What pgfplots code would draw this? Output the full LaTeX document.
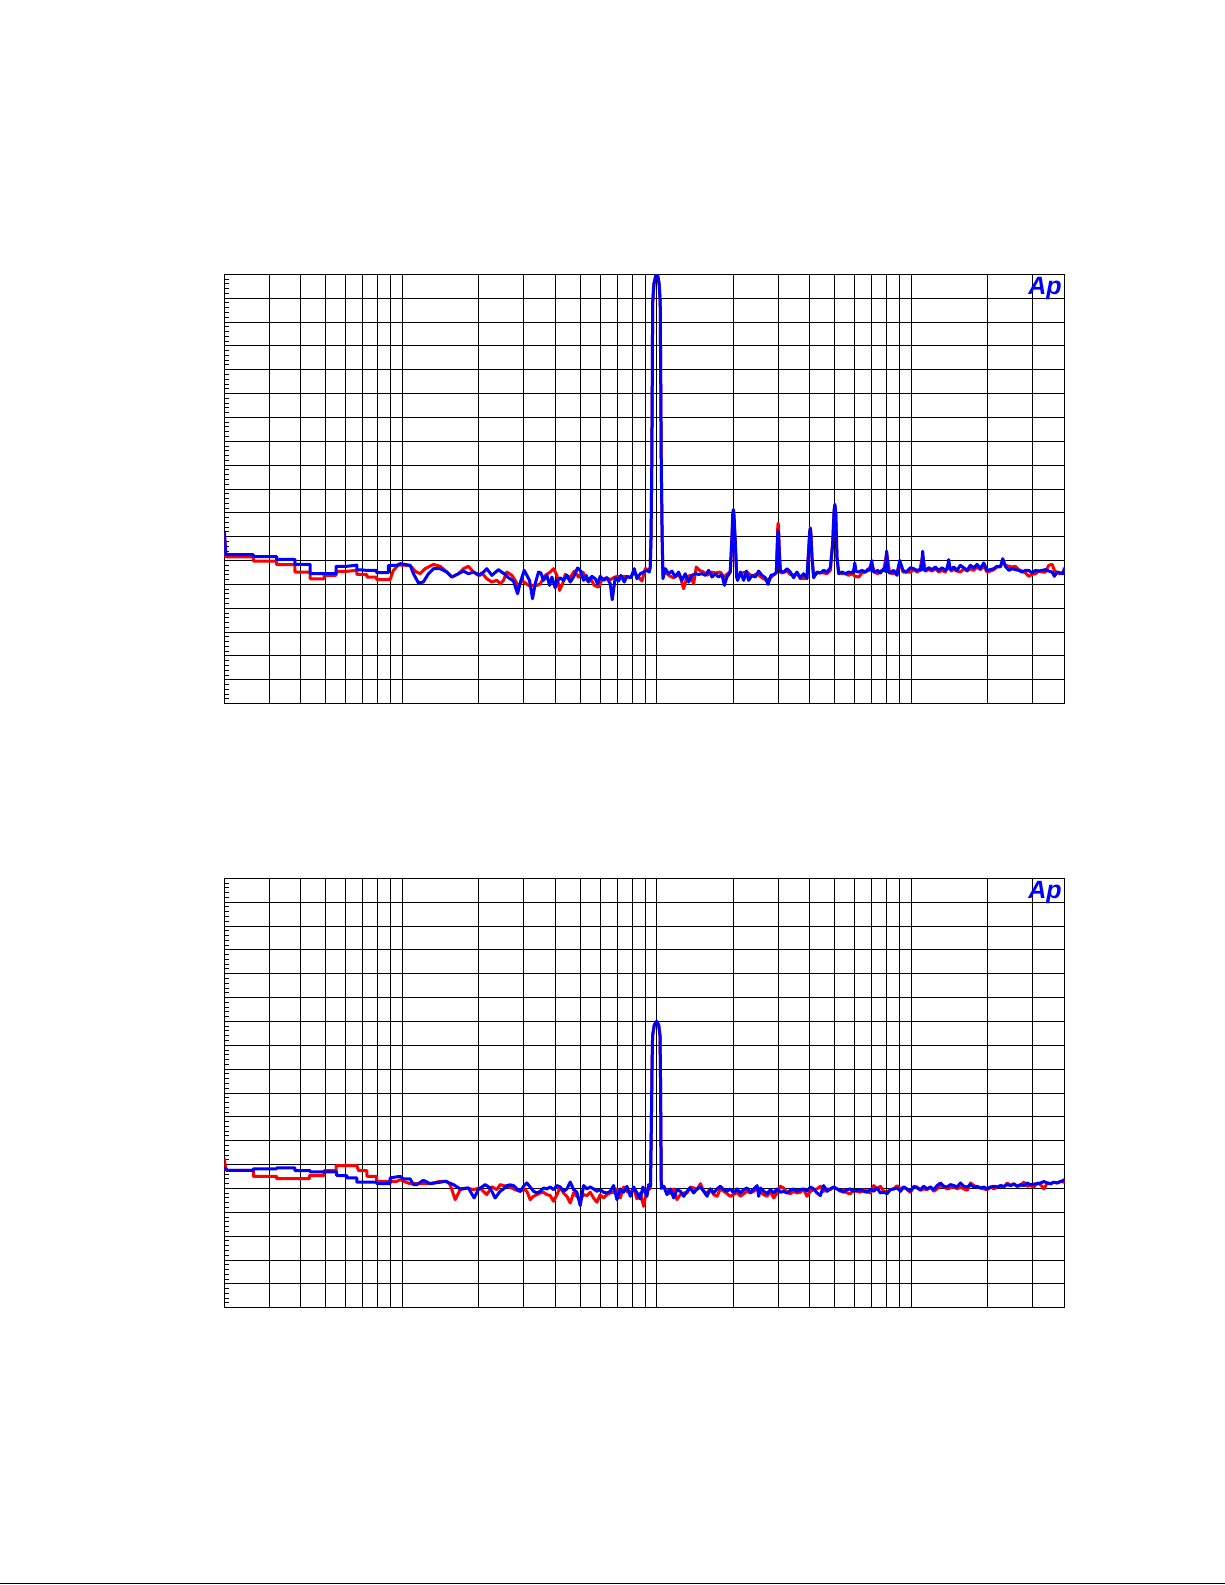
\documentclass[border=0pt]{standalone}
\usepackage{fontspec}
\usepackage{pgfplots}
\pgfplotsset{compat=1.18}
\newfontfamily\apfont{Liberation Sans}
\definecolor{apred}{RGB}{255,0,0}
\definecolor{apblue}{RGB}{0,0,255}
\begin{document}
\begin{tikzpicture}
\path[use as bounding box] (0,0) rectangle (612.5pt,-792.5pt);
% ---------------- top graph ----------------
\begin{axis}[
  at={(112.15pt,-137.15pt)}, anchor=north west,
  scale only axis, width=420.1pt, height=214.7pt,
  xmode=log, xmin=20, xmax=40000, ymin=-180, ymax=0,
  xtick={30,40,50,60,70,80,90,100,200,300,400,500,600,700,800,900,1000,2000,3000,4000,5000,6000,7000,8000,9000,10000,20000,30000},
  minor xtick={},
  ytick={-180,-170,...,0},
  minor y tick num=4,
  xticklabels={}, yticklabels={},
  grid=major,
  major grid style={black, line width=0.5pt},
  axis line style={black, line width=0.6pt},
  major tick length=0pt,
  minor tick length=2.2pt,
  tick align=inside,
  ytick pos=left, xtick pos=bottom,
  minor tick style={black, line width=0.5pt},
  ]
\addplot[apred, line width=1.5pt, line join=round, mark=none] coordinates {
(20,-108.7) (20.3,-118.5) (26.0,-118.5) (26.0,-120.2) (32.1,-120.2) (32.1,-121.7) (37.9,-121.7) (37.9,-124.8) (43.5,-124.8) (43.5,-127.7) (49.3,-127.7) (49.3,-126.2) (55,-126.2) (55,-124.5) (60.6,-124.5) (66.3,-124.1) (66.3,-125.8) (72.6,-125.8) (72.6,-126.9) (79.4,-126.9) (79.4,-128.0) (89.6,-128.0) (92.3,-124.1) (96.6,-121.9) (107.4,-122.0) (112.4,-124.5) (117.6,-125.5) (123,-123.4) (132.7,-121.6) (141,-122.4) (149.7,-124.8) (156.6,-126.9) (166.4,-125.5) (174,-123.4) (182,-122.4) (190.6,-124.8) (199,-126.2) (205.6,-125.2) (214.9,-127.6) (225,-129.0) (235.4,-128.3)
(242.6,-129.7) (250.0,-128.3) (257.7,-124.8) (269.6,-126.2) (277.9,-128.3) (286.4,-131.1) (295.2,-128.3) (304.3,-129.4) (313.6,-130.4) (323.2,-130.4) (338.2,-130.4) (348.5,-129.7) (364.6,-126.2) (381.5,-124.8) (393.2,-123.4) (405.2,-126.2) (415.1,-132.5) (427.8,-129.4) (436.9,-125.8) (457.2,-127.2) (474.1,-124.4) (493.0,-126.9) (512.7,-124.8) (531.6,-128.3) (547.9,-127.2) (568.1,-130.4) (590.9,-131.1) (608.9,-128.0) (633.2,-127.2) (656.6,-128.0) (676.8,-127.2) (697.5,-126.6) (718.8,-126.9) (752.1,-126.6) (786.8,-127.2) (811.0,-125.2) (835.8,-126.2) (874.7,-128.6) (901.4,-123.4) (937.3,-124.1)
(942.9,-122.7) (950,-110) (956,-80) (961,-40) (963.5,-12) (975,-4) (990,-0.8) (1000,0) (1010,-0.8) (1022,-4) (1032,-12) (1036,-40) (1042,-80) (1050,-110) (1057.7,-126)
(1063.9,-124.1) (1096,-125.5) (1130,-126.6) (1165,-127.2) (1200.5,-125.8) (1237,-126.9) (1275,-131.8) (1314,-126.9) (1355,-126.2) (1396,-129.7) (1430,-122.7) (1474,-124.1) (1528,-124.8) (1575,-126.2) (1633,-124.8) (1698,-125.2) (1777,-124.8) (1832,-126.9) (1887,-125.8) (1945,-124.5) (1975,-111) (1990,-101.5) (2000,-100.3) (2010,-101.5) (2035,-113) (2066,-127.2) (2162,-125.2) (2262,-124.8) (2367,-126.6) (2476,-125.5) (2591,-127.2) (2711,-128.3) (2837,-126.6) (2950,-125) (2975,-113) (2990,-105.5) (3000,-104.3) (3010,-106) (3030,-115) (3060,-125) (3106,-125.2) (3248,-124.4)
(3347,-125.8) (3450,-126.2) (3556,-125.2) (3665,-127.6) (3777,-127.6) (3893,-127.2) (3952,-116) (3990,-108) (4012,-106.3) (4035,-109) (4073,-119) (4135,-126.6) (4262,-125.2) (4393,-125.2) (4527,-125.2) (4666,-125.5) (4809,-124.1) (4910,-113) (4975,-99.5) (5010,-97) (5050,-100.5) (5107,-119) (5184,-124.8) (5343,-125.5) (5507,-125.5) (5676,-126.2) (5849,-125.5) (6029,-126.6) (6214,-126.9) (6403,-125.2) (6600,-124.8) (6802,-124.1) (6988,-121) (7160,-124.8) (7379,-125.5) (7559,-124.4) (7791,-124.1) (8005,-117) (8226,-125.2) (8530,-125.5) (8791,-124.8) (9006,-121) (9281,-124.8) (9566,-124.8) (9917,-124.8) (10221,-123.8) (10534,-124.8) (10792,-124.1) (11089,-118) (11360,-124.4) (11708,-123.8) (12066,-124.4) (12436,-123.4) (12817,-124.8) (13210,-124.1) (13615,-124.8) (14032,-121) (14333,-124.4) (14681,-123.8) (15131,-124.4) (15594,-124.8) (16073,-123.4) (16565,-124.4) (17073,-123.4) (17595,-124.1) (18134,-122.7) (18689,-123.8) (19262,-122.4) (19853,-124.8) (20461,-124.4) (21088,-123.8) (21734,-122.7) (22400,-122.4) (22876,-120.5) (23433,-122.0) (24152,-122.4) (24892,-122.7) (25655,-122.4) (26441,-123.8) (27251,-124.4) (28086,-125.2) (28947,-126.6) (29834,-125.8) (30747,-125.5) (31690,-124.4) (32661,-124.8) (33661,-124.8) (34693,-122.0) (35756,-121.6) (36508,-124.1) (37400,-125.2) (38546,-125.5) (39488,-124.8) (40000,-124.1)
};
\addplot[apblue, line width=1.5pt, line join=round, mark=none] coordinates {
(20,-108.0) (20.3,-117.5) (26.0,-117.5) (26.0,-118.3) (32.1,-118.3) (32.1,-119.5) (37.9,-119.5) (37.9,-121.6) (43.5,-121.6) (43.5,-125.5) (55,-125.5) (55,-122.4) (60.6,-122.4) (66.3,-121.9) (66.3,-123.8) (72.6,-124.1) (79.4,-124.1) (79.4,-125.1) (88.3,-125.1) (88.3,-122.0) (95.3,-122.0) (98.2,-121.3) (107.4,-122.0) (110.7,-125.5) (115.8,-129.4) (121,-129.0) (126.8,-125.5) (132.7,-123.4) (141,-123.4) (149.7,-124.8) (156.6,-126.9) (166.4,-125.5) (174,-124.4) (182,-125.5) (190.6,-124.8) (202,-126.2) (214.9,-123.4) (225,-126.2) (238.9,-123.8)
(242.6,-124.4) (253.8,-125.8) (261.6,-127.2) (273.7,-128.6) (283.9,-133.9) (290.6,-129.4) (301.5,-124.1) (308.9,-126.2) (316.4,-128.3) (325.1,-136.0) (333,-129.7) (343.2,-124.8) (350.6,-125.2) (359.1,-128.3) (370.1,-126.2) (379.2,-130.4) (387.3,-126.9) (399.1,-131.4) (407.7,-128.3) (417.6,-127.2) (430.4,-128.3) (443.6,-126.2) (457.2,-129.0) (471.2,-126.9) (488.5,-123.1) (500.5,-124.1) (515.8,-128.3) (528.4,-126.2) (539.7,-129.0) (556.2,-126.6) (573.2,-127.6) (585.5,-129.7) (599.8,-126.6) (618.2,-128.3) (637.1,-127.2) (656.6,-129.7) (668.7,-136.4) (686.9,-127.2) (708,-128.6) (723.1,-126.2) (745.3,-129.0) (763.5,-126.6) (791.6,-127.2) (815.9,-123.4) (835.8,-127.6) (861.5,-125.5) (887.8,-124.8) (915,-124.1) (935,-124.8)
(942.9,-122.7) (950,-110) (956,-80) (961,-40) (963.5,-12) (975,-4) (990,-0.8) (1000,0) (1010,-0.8) (1022,-4) (1032,-12) (1036,-40) (1042,-80) (1050,-110) (1057.7,-127.6)
(1080,-123.4) (1113,-125.5) (1147,-124.4) (1182,-126.9) (1218,-124.8) (1256,-128.3) (1294,-125.5) (1334,-129.0) (1375,-126.2) (1417,-125.5) (1461,-125.8) (1506,-125.5) (1552,-126.2) (1599,-124.1) (1648,-126.9) (1698,-125.5) (1751,-126.9) (1804,-125.8) (1843,-130.4) (1887,-126.9) (1945,-124.8) (1975,-110) (1990,-100) (2000,-98.6) (2010,-100) (2035,-112) (2060,-126.9) (2079,-128.3) (2130,-124.8) (2195,-128.3) (2248,-124.4) (2296,-128.3) (2367,-126.2) (2439,-126.9) (2514,-124.4) (2591,-126.2) (2671,-127.2) (2736,-130.0) (2811,-126.2) (2897,-125.8) (2950,-125) (2975,-115) (2990,-108.5) (3000,-107.5) (3010,-109) (3030,-117) (3060,-124.4) (3152,-124.8) (3248,-123.4) (3348,-124.8)
(3450,-127.2) (3556,-124.8) (3665,-127.2) (3777,-125.5) (3893,-127.6) (3952,-116) (3990,-108) (4012,-106.6) (4035,-109) (4073,-118.5) (4135,-127.2) (4262,-124.8) (4393,-125.2) (4527,-124.1) (4666,-124.8) (4809,-123.0) (4910,-113) (4975,-99) (5010,-96.4) (5050,-100) (5107,-118.5) (5184,-125.5) (5343,-124.8) (5507,-125.5) (5676,-124.8) (5849,-125.2) (5940,-124) (6000,-121.0) (6060,-124.5) (6214,-124.8) (6403,-124.1) (6600,-124.8) (6802,-123.4) (6900,-124) (6988,-119.9) (7080,-124.5) (7160,-124.8) (7379,-124.1) (7559,-125.2) (7791,-123.4) (7900,-124.5) (8005,-116.0) (8110,-124.5) (8226,-125.2) (8530,-124.1) (8791,-126.2) (9006,-119.9) (9281,-124.1) (9566,-124.8) (9917,-123.0) (10221,-123.4) (10534,-124.1) (10792,-123.8) (10950,-124) (11089,-116.1) (11230,-124) (11360,-124.1) (11708,-123.0) (12066,-123.8) (12436,-122.7) (12817,-124.1) (13210,-123.0) (13615,-124.1) (13850,-123.5) (14032,-119.6) (14200,-123.5) (14333,-123.8) (14681,-122.7) (15131,-124.1) (15594,-122.0) (16073,-123.0) (16565,-124.1) (17073,-122.0) (17595,-123.0) (18134,-121.6) (18689,-123.4) (19262,-121.0) (19853,-124.1) (20461,-123.8) (21088,-123.4) (21734,-122.4) (22400,-122.7) (22876,-119.2) (23433,-122.4) (24152,-124.1) (24892,-123.4) (25655,-123.8) (26441,-124.1) (27251,-124.8) (28086,-124.1) (28947,-124.1) (29834,-125.2) (30747,-124.1) (31690,-124.4) (32661,-124.1) (33661,-123.8) (34693,-124.4) (35756,-124.8) (36508,-126.6) (37400,-124.8) (38546,-125.2) (39488,-125.5) (40000,-123.0)
};
\node[anchor=north east, inner sep=0pt, text=apblue, font=\apfont\bfseries\itshape\fontsize{12.5}{12.5}\selectfont] at (rel axis cs:1,1) [xshift=-1.2pt, yshift=-1.4pt] {Ap};
\end{axis}
% ---------------- bottom graph ----------------
\begin{axis}[
  at={(112.15pt,-439.15pt)}, anchor=north west,
  scale only axis, width=420.1pt, height=214.7pt,
  xmode=log, xmin=20, xmax=40000, ymin=-180, ymax=0,
  xtick={30,40,50,60,70,80,90,100,200,300,400,500,600,700,800,900,1000,2000,3000,4000,5000,6000,7000,8000,9000,10000,20000,30000},
  minor xtick={},
  ytick={-180,-170,...,0},
  minor y tick num=4,
  xticklabels={}, yticklabels={},
  grid=major,
  major grid style={black, line width=0.5pt},
  axis line style={black, line width=0.6pt},
  major tick length=0pt,
  minor tick length=2.2pt,
  tick align=inside,
  ytick pos=left, xtick pos=bottom,
  minor tick style={black, line width=0.5pt},
  ]
\addplot[apred, line width=1.5pt, line join=round, mark=none] coordinates {
(20,-117.5) (20.3,-122.4) (26.0,-122.4) (26.0,-124.9) (32.1,-124.9) (32.1,-125.9) (43.2,-125.9) (43.2,-124.6) (49.3,-124.6) (49.3,-122.5) (55.0,-122.5) (55.0,-120.4) (66.3,-120.4) (67.3,-122.5) (72.6,-122.5) (72.6,-124.9) (79.4,-124.9) (79.4,-127.0) (95.3,-127.0) (98.2,-126.3) (101.1,-127.0) (107.4,-128.0) (128.7,-128.0) (141,-127.0) (149.7,-127.0) (154.3,-128.4) (161.4,-134.7) (168.9,-130.5) (179.4,-129.8) (190.6,-130.5) (202,-129.8) (214.9,-132.6) (225,-129.3) (235.4,-130.5)
(242.6,-128.4) (250.0,-128.8) (257.7,-129.1) (265.6,-129.5) (273.7,-130.2) (282.1,-130.8) (290.8,-131.2) (299.7,-130.2) (308.9,-131.2) (318.3,-134.7) (328.1,-133.3) (338.2,-132.6) (348.5,-131.9) (359.2,-131.6) (370.2,-132.6) (381.5,-133.0) (393.2,-135.4) (405.3,-132.6) (417.7,-129.4) (430.5,-131.9) (443.6,-133.3) (457.2,-136.1) (471.2,-131.9) (485.7,-133.3) (500.5,-134.7) (515.9,-132.6) (531.7,-133.0) (548.0,-131.6) (564.8,-134.0) (582.1,-135.8) (599.9,-132.6) (618.3,-134.0) (637.3,-132.6) (656.8,-131.9) (676.9,-131.6) (697.6,-130.2) (719.0,-134.0) (741.1,-129.4) (763.8,-131.2) (787.2,-131.9) (811.3,-129.8) (836.2,-134.4) (861.8,-131.9) (888.2,-137.5) (915.4,-130.2) (935,-130.5)
(945,-129) (952,-105) (958,-80) (963,-66) (978,-61.5) (1000,-60) (1018,-61.5) (1030,-66) (1034,-80) (1038,-105) (1042,-129)
(1065,-129.1) (1097,-131.2) (1131,-132.2) (1166,-130.2) (1201,-134.7) (1238,-132.6) (1276,-131.9) (1315,-131.9) (1355,-129.4) (1397,-129.8) (1440,-130.5) (1484,-128.0) (1529,-131.2) (1576,-131.9) (1624,-130.2) (1674,-132.6) (1725,-133.3) (1778,-130.2) (1833,-131.2) (1889,-132.2) (1947,-133.3) (2006,-132.6) (2068,-131.6) (2131,-133.3) (2196,-132.2) (2264,-131.2) (2333,-131.9) (2405,-131.2) (2478,-130.2) (2554,-131.6) (2633,-132.6) (2713,-133.3) (2796,-131.2) (2882,-134.0) (2970,-131.9)
(3058,-129.1) (3151,-129.8) (3248,-131.6) (3347,-132.2) (3450,-131.2) (3556,-131.9) (3665,-131.6) (3777,-130.5) (3893,-133.3) (4012,-131.2) (4135,-130.5) (4262,-130.2) (4393,-129.1) (4527,-131.2) (4666,-130.2) (4809,-130.5) (4957,-129.4) (5108,-130.2) (5265,-131.2) (5427,-130.5) (5593,-131.9) (5764,-132.2) (5941,-130.8) (6123,-131.2) (6311,-131.6) (6504,-130.5) (6703,-131.2) (6909,-131.9) (7120,-128.8) (7339,-130.2) (7564,-129.1) (7795,-131.2) (8034,-131.6) (8280,-130.5) (8534,-130.2) (8796,-128.8) (9065,-130.2) (9343,-129.4) (9629,-130.5) (9924,-131.6) (10228,-129.1) (10542,-129.4) (10865,-130.8) (11198,-130.2) (11541,-130.5) (11895,-129.4) (12259,-131.2) (12635,-130.2) (13022,-128.8) (13421,-129.4) (13833,-130.2) (14257,-129.8) (14694,-129.1) (15144,-130.2) (15608,-129.4) (16086,-130.2) (16579,-130.8) (17087,-127.7) (17611,-128.8) (18151,-129.4) (18707,-129.8) (19280,-130.2) (19871,-130.5) (20480,-129.4) (21108,-130.2) (21755,-129.4) (22421,-129.1) (23108,-129.4) (23817,-127.7) (24547,-128.8) (25299,-128.0) (26074,-129.1) (26873,-128.8) (27697,-127.4) (28546,-129.1) (29421,-128.8) (30323,-129.4) (31252,-127.7) (32210,-128.4) (33197,-130.2) (34214,-127.7) (35263,-128.1) (36344,-127.4) (37458,-127.7) (38606,-127.0) (39789,-127.4) (40000,-126.6)
};
\addplot[apblue, line width=1.5pt, line join=round, mark=none] coordinates {
(20,-121.4) (20.6,-122.4) (26.0,-122.4) (26.0,-121.8) (32.1,-121.8) (32.1,-121.4) (37.9,-121.4) (37.9,-122.5) (43.5,-122.5) (43.5,-123.1) (55.3,-123.1) (55.3,-124.6) (60.6,-124.6) (60.6,-125.6) (66.3,-125.6) (66.3,-127.4) (79.4,-127.4) (79.4,-128.0) (89.6,-128.0) (89.6,-125.6) (98.2,-124.9) (101.1,-126.0) (107.4,-126.0) (110.7,-128.4) (114.1,-128.4) (121,-126.6) (128.7,-128.0) (141,-127.4) (147.5,-127.0) (159,-128.4) (168.9,-130.2) (182,-129.8) (191.7,-134.0) (199,-130.5) (211.8,-128.4) (221.6,-129.8) (231.8,-134.0)
(242.6,-131.2) (250.0,-130.2) (257.7,-128.8) (265.6,-128.5) (273.7,-128.8) (282.1,-130.2) (290.8,-131.2) (299.7,-129.1) (308.9,-127.7) (318.3,-129.4) (328.1,-131.2) (338.2,-131.9) (348.5,-131.2) (359.2,-129.8) (370.2,-130.2) (381.5,-129.4) (393.2,-130.5) (405.3,-128.8) (417.7,-129.4) (430.5,-131.2) (443.6,-130.2) (457.2,-127.3) (471.2,-130.5) (485.7,-131.6) (500.5,-137.2) (515.9,-128.8) (531.7,-130.2) (548.0,-129.4) (564.8,-130.2) (582.1,-131.2) (599.9,-130.5) (618.3,-131.6) (637.3,-131.9) (656.8,-131.2) (676.9,-128.8) (697.6,-134.7) (719.0,-130.2) (741.1,-131.6) (763.8,-129.1) (787.2,-133.3) (811.3,-129.4) (836.2,-131.9) (861.8,-134.4) (882,-129.4) (915.4,-133.3) (929,-128.4)
(945,-129) (952,-105) (958,-80) (963,-66) (978,-61.5) (1000,-60) (1018,-61.5) (1030,-66) (1034,-80) (1038,-105) (1042,-130)
(1065,-129.1) (1097,-132.6) (1131,-130.2) (1166,-134.0) (1201,-130.5) (1238,-131.2) (1276,-133.3) (1315,-131.2) (1355,-129.8) (1397,-131.9) (1440,-130.2) (1484,-129.4) (1529,-131.2) (1576,-133.3) (1624,-130.2) (1674,-131.9) (1725,-130.2) (1778,-129.1) (1833,-130.5) (1889,-131.2) (1947,-130.2) (2006,-131.9) (2068,-130.2) (2131,-131.9) (2196,-130.5) (2264,-129.8) (2333,-131.6) (2405,-130.2) (2478,-128.8) (2516,-133.3) (2554,-129.8) (2633,-131.2) (2713,-132.2) (2796,-130.5) (2882,-131.9) (2970,-130.2)
(3058,-131.6) (3151,-131.2) (3248,-131.9) (3347,-130.8) (3450,-130.2) (3556,-131.2) (3665,-130.5) (3777,-130.2) (3893,-131.2) (4012,-129.4) (4135,-130.2) (4262,-131.9) (4393,-133.0) (4527,-128.8) (4666,-131.2) (4809,-130.2) (4957,-129.4) (5108,-130.2) (5265,-130.8) (5427,-131.6) (5593,-130.5) (5764,-130.2) (5941,-131.2) (6123,-130.8) (6311,-130.5) (6504,-131.2) (6703,-131.6) (6909,-130.2) (7120,-131.2) (7339,-129.8) (7564,-131.9) (7795,-131.6) (8034,-132.2) (8280,-130.5) (8534,-130.2) (8796,-129.8) (9065,-131.2) (9343,-129.4) (9629,-130.2) (9924,-131.2) (10228,-129.4) (10542,-129.8) (10865,-130.5) (11198,-129.1) (11541,-130.2) (11895,-129.4) (12259,-130.5) (12635,-128.8) (13022,-127.7) (13421,-129.1) (13833,-129.4) (14257,-128.4) (14694,-128.8) (15144,-129.4) (15608,-127.7) (16086,-129.1) (16579,-129.4) (17087,-128.4) (17611,-129.4) (18151,-129.1) (18707,-129.8) (19280,-129.4) (19871,-130.2) (20480,-129.4) (21108,-129.1) (21755,-129.4) (22421,-128.8) (23108,-129.1) (23817,-128.4) (24547,-128.8) (25299,-128.2) (26074,-129.1) (26873,-128.4) (27697,-128.8) (28546,-127.7) (29421,-128.5) (30323,-128.2) (31252,-128.0) (32210,-127.7) (33197,-127.1) (34214,-127.7) (35263,-128.0) (36344,-127.4) (37458,-127.7) (38606,-127.1) (39789,-126.6) (40000,-126.0)
};
\node[anchor=north east, inner sep=0pt, text=apblue, font=\apfont\bfseries\itshape\fontsize{12.5}{12.5}\selectfont] at (rel axis cs:1,1) [xshift=-1.2pt, yshift=-1.4pt] {Ap};
\end{axis}
\draw[line width=0.7pt] (0,-791.85pt) -- (612.5pt,-791.85pt);
\end{tikzpicture}
\end{document}
